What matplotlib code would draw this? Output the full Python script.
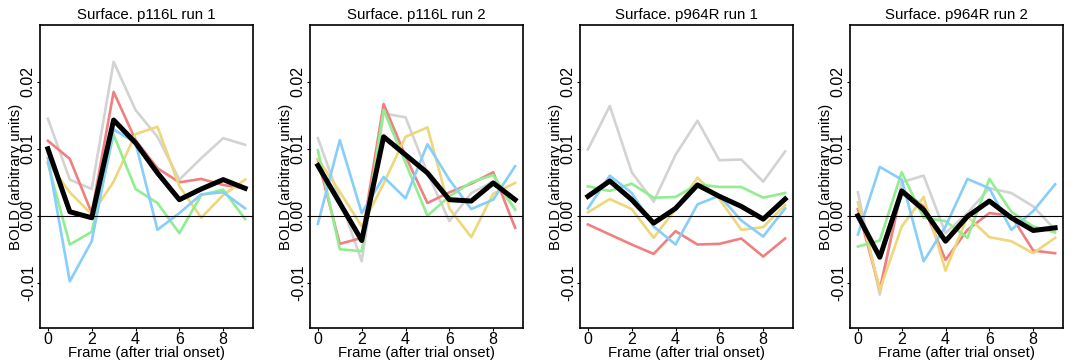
import matplotlib
matplotlib.use("Agg")
import matplotlib.pyplot as plt

plt.rcParams["font.family"] = ["Liberation Sans", "DejaVu Sans"]

frames = list(range(10))
titles = ["Surface. p116L run 1", "Surface. p116L run 2",
          "Surface. p964R run 1", "Surface. p964R run 2"]

# per-panel series (grey, red, yellow, green, blue) and the mean (black)
grey = [
    [0.0145, 0.0054, 0.0040, 0.0230, 0.0158, 0.0118, 0.0054, 0.0086, 0.0116, 0.0106],
    [0.0116, 0.0025, -0.0068, 0.0153, 0.0147, 0.0064, -0.0008, 0.0034, 0.0051, 0.0010],
    [0.0099, 0.0164, 0.0065, 0.0021, 0.0091, 0.0142, 0.0083, 0.0084, 0.0051, 0.0096],
    [0.0035, -0.0118, 0.0050, 0.0060, -0.0026, 0.0004, 0.0041, 0.0034, 0.0014, -0.0021],
]
red = [
    [0.0112, 0.0085, 0.0004, 0.0185, 0.0113, 0.0071, 0.0050, 0.0055, 0.0046, 0.0041],
    [0.0084, -0.0042, -0.0033, 0.0167, 0.0089, 0.0019, 0.0035, 0.0048, 0.0065, -0.0018],
    [-0.0013, -0.0028, -0.0043, -0.0057, -0.0023, -0.0043, -0.0042, -0.0034, -0.0061, -0.0034],
    [0.0010, -0.0110, 0.0039, 0.0014, -0.0066, -0.0021, 0.0004, 0.0000, -0.0052, -0.0056],
]
yellow = [
    [0.0080, 0.0035, 0.0002, 0.0051, 0.0122, 0.0133, 0.0044, -0.0003, 0.0031, 0.0054],
    [0.0085, 0.0036, -0.0016, 0.0048, 0.0118, 0.0132, 0.0011, -0.0032, 0.0033, 0.0049],
    [0.0005, 0.0025, 0.0010, -0.0033, 0.0010, 0.0057, 0.0025, -0.0021, -0.0017, 0.0016],
    [0.0020, -0.0111, -0.0016, 0.0028, -0.0082, -0.0001, -0.0032, -0.0038, -0.0056, -0.0033],
]
green = [
    [0.0078, -0.0043, -0.0024, 0.0121, 0.0040, 0.0019, -0.0026, 0.0031, 0.0039, -0.0005],
    [0.0098, -0.0050, -0.0053, 0.0158, 0.0079, 0.0000, 0.0029, 0.0050, 0.0061, 0.0009],
    [0.0044, 0.0037, 0.0048, 0.0027, 0.0028, 0.0047, 0.0043, 0.0043, 0.0027, 0.0034],
    [-0.0046, -0.0037, 0.0065, -0.0003, -0.0008, -0.0033, 0.0055, 0.0006, -0.0016, -0.0025],
]
blue = [
    [0.0086, -0.0098, -0.0038, 0.0129, 0.0109, -0.0021, 0.0004, 0.0032, 0.0035, 0.0011],
    [-0.0012, 0.0113, 0.0004, 0.0058, 0.0026, 0.0107, 0.0054, 0.0010, 0.0024, 0.0074],
    [0.0011, 0.0060, 0.0034, -0.0016, -0.0043, 0.0017, 0.0030, -0.0007, -0.0031, 0.0011],
    [-0.0028, 0.0073, 0.0054, -0.0068, -0.0016, 0.0055, 0.0041, -0.0021, 0.0007, 0.0047],
]
mean = [
    [0.0100, 0.0006, -0.0003, 0.0143, 0.0109, 0.0064, 0.0024, 0.0040, 0.0054, 0.0041],
    [0.0075, 0.0019, -0.0037, 0.0118, 0.0091, 0.0064, 0.0024, 0.0022, 0.0049, 0.0024],
    [0.0029, 0.0052, 0.0024, -0.0011, 0.0011, 0.0046, 0.0029, 0.0014, -0.0005, 0.0025],
    [0.0000, -0.0062, 0.0037, 0.0009, -0.0038, -0.0001, 0.0022, -0.0003, -0.0022, -0.0018],
]

series = [(grey, "#d3d3d3"), (red, "#f08080"), (yellow, "#eed77a"),
          (green, "#90ee90"), (blue, "#87cefa")]

fig = plt.figure(figsize=(10.8, 3.6), dpi=100)
W, H = 1080, 360
for i, title in enumerate(titles):
    left = 40 + 270 * i
    ax = fig.add_axes([left / W, 32 / H, 213 / W, 303 / H])
    for vals, col in series:
        ax.plot(frames, vals[i], color=col, lw=1.9)
    ax.plot(frames, mean[i], color="black", lw=3.6)
    ax.axhline(0, color="black", lw=0.8)
    ax.set_xlim(-0.36, 9.36)
    ax.set_ylim(-0.01677, 0.0285)
    ax.set_xticks([0, 2, 4, 6, 8])
    ax.set_yticks([-0.01, 0.0, 0.01, 0.02])
    ax.set_yticklabels(["-0.01", "0.00", "0.01", "0.02"], rotation=90, va="center")
    ax.tick_params(length=2.5, width=0.8, labelsize=11.5, pad=0.5)
    for s in ax.spines.values():
        s.set_linewidth(1.2)
    ax.set_title(title, fontsize=10.8, pad=4)
    ax.set_xlabel("Frame (after trial onset)", fontsize=10.8, labelpad=-1.2)
    ax.set_ylabel("BOLD (arbitrary units)", fontsize=10.8, labelpad=-1.5)

fig.savefig("out.png", dpi=100)
